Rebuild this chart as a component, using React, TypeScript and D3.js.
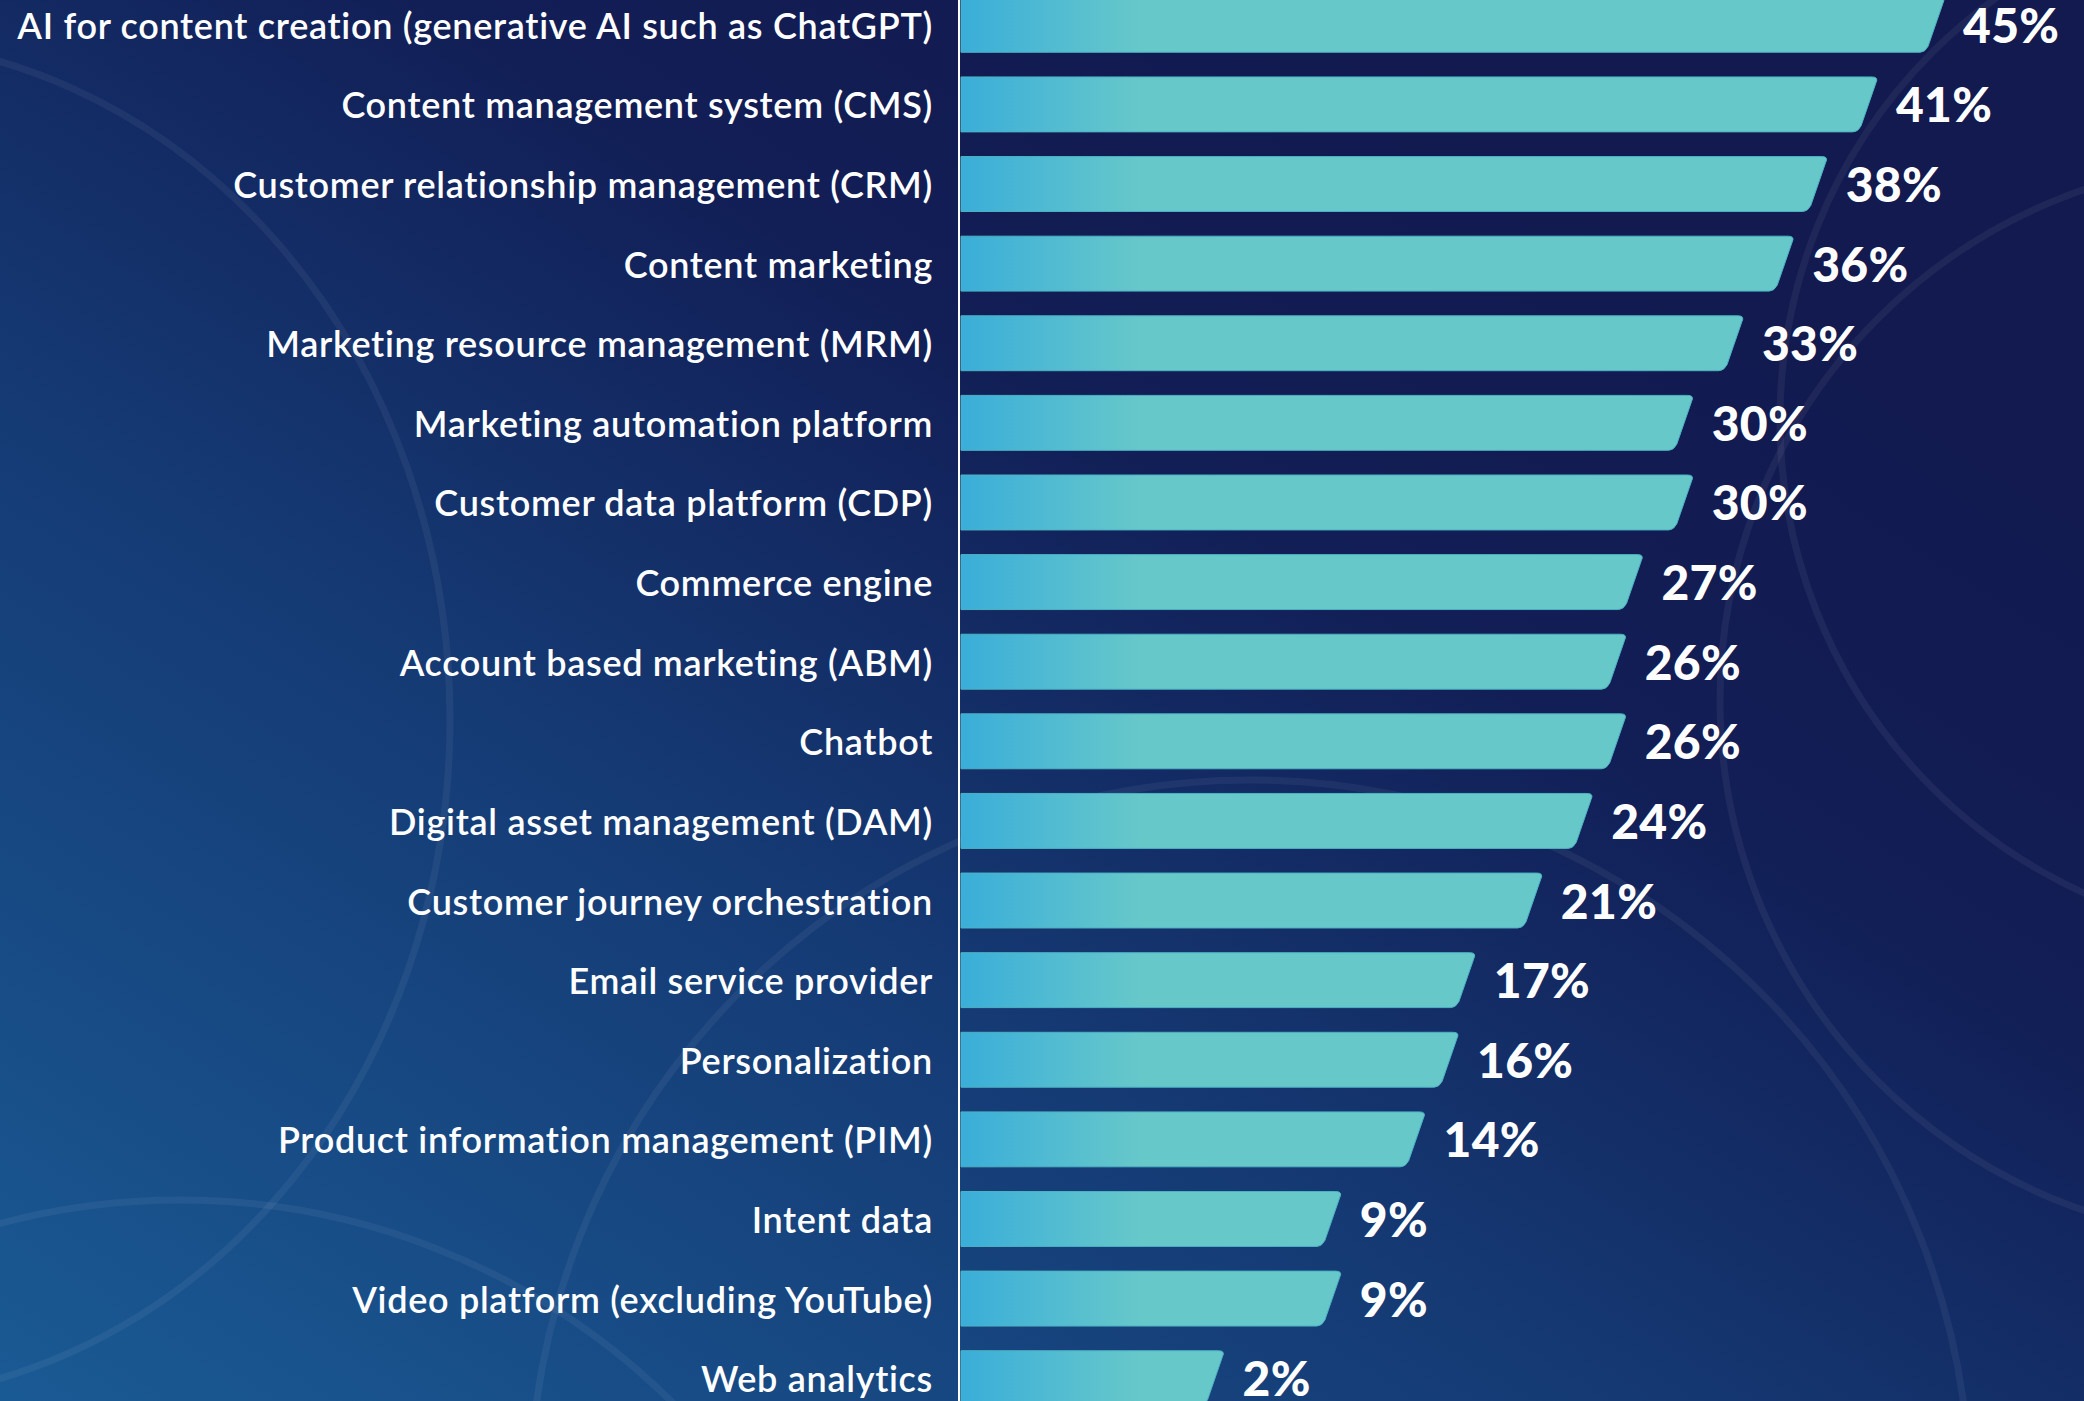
import { useEffect, useRef } from 'react';
import * as d3 from 'd3';

const categories = [
  'AI for content creation (generative AI such as ChatGPT)',
  'Content management system (CMS)',
  'Customer relationship management (CRM)',
  'Content marketing',
  'Marketing resource management (MRM)',
  'Marketing automation platform',
  'Customer data platform (CDP)',
  'Commerce engine',
  'Account based marketing (ABM)',
  'Chatbot',
  'Digital asset management (DAM)',
  'Customer journey orchestration',
  'Email service provider',
  'Personalization',
  'Product information management (PIM)',
  'Intent data',
  'Video platform (excluding YouTube)',
  'Web analytics',
];

const values = [45, 41, 38, 36, 33, 30, 30, 27, 26, 26, 24, 21, 17, 16, 14, 9, 9, 2];

// faint decorative rings in the background
const rings = [
  { cx: -150, cy: 720, rx: 600, ry: 680 },
  { cx: 2260, cy: 700, rx: 540, ry: 540 },
  { cx: 1250, cy: 1500, rx: 720, ry: 720 },
  { cx: 2300, cy: 420, rx: 520, ry: 520 },
  { cx: 180, cy: 1900, rx: 700, ry: 700 },
];

export default function App() {
  const ref = useRef<SVGSVGElement | null>(null);

  useEffect(() => {
    document.body.style.margin = '0';
    if (!ref.current) return;
    const width = 2084;
    const height = 1401;
    const axisX = 959;
    const barLeft = 961;
    const slant = 19;
    const r = 6;

    const svg = d3.select(ref.current);
    svg.selectAll('*').remove();

    const defs = svg.append('defs');
    const bg = defs.append('linearGradient').attr('id', 'bg')
      .attr('x1', 0).attr('y1', 1).attr('x2', 0.8).attr('y2', 0.15);
    bg.append('stop').attr('offset', 0).attr('stop-color', '#1a5a94');
    bg.append('stop').attr('offset', 0.45).attr('stop-color', '#153a74');
    bg.append('stop').attr('offset', 0.75).attr('stop-color', '#121e56');
    bg.append('stop').attr('offset', 1).attr('stop-color', '#121a4f');

    const barGrad = defs.append('linearGradient').attr('id', 'bar')
      .attr('gradientUnits', 'userSpaceOnUse')
      .attr('x1', barLeft).attr('x2', barLeft + 180).attr('y1', 0).attr('y2', 0);
    barGrad.append('stop').attr('offset', 0).attr('stop-color', '#3aaed9');
    barGrad.append('stop').attr('offset', 1).attr('stop-color', '#67c8ca');

    svg.append('rect').attr('width', width).attr('height', height).attr('fill', 'url(#bg)');

    svg.append('g').selectAll('ellipse').data(rings).join('ellipse')
      .attr('cx', d => d.cx).attr('cy', d => d.cy).attr('rx', d => d.rx).attr('ry', d => d.ry)
      .attr('fill', 'none').attr('stroke', 'rgba(255,255,255,0.055)').attr('stroke-width', 7);

    const y = d3.scaleBand<string>()
      .domain(categories)
      .range([-15, 1418])
      .paddingInner(0.31)
      .paddingOuter(0.155);

    // right (top) corner of each bar
    const x = d3.scaleLinear().domain([0, 45]).range([1191, 1945]);

    const h = y.bandwidth();
    const k = (slant * r) / h;
    const barPath = (v: number, top: number) => {
      const xr = x(v);
      const bot = top + h;
      return `M${barLeft},${top}H${xr - r}Q${xr + 1},${top} ${xr - k},${top + r}`
        + `L${xr - slant + k},${bot - r}Q${xr - slant - 1},${bot} ${xr - slant - r},${bot}`
        + `H${barLeft}Z`;
    };

    const rows = categories.map((c, i) => ({ c, v: values[i] }));

    svg.append('g').selectAll('path').data(rows).join('path')
      .attr('d', d => barPath(d.v, y(d.c)!))
      .attr('fill', 'url(#bar)')
      .attr('stroke', '#4cb2c3')
      .attr('stroke-width', 1);

    svg.append('line')
      .attr('x1', axisX).attr('x2', axisX).attr('y1', 0).attr('y2', height)
      .attr('stroke', '#ffffff').attr('stroke-width', 2);

    svg.append('g').selectAll('text').data(rows).join('text')
      .attr('x', 933)
      .attr('y', d => y(d.c)! + h / 2 + 14)
      .attr('text-anchor', 'end')
      .attr('fill', '#ffffff')
      .style('font-family', 'Lato, "Open Sans", sans-serif')
      .style('font-weight', 600)
      .style('font-size', '36px')
      .style('letter-spacing', '0.7px')
      .text(d => d.c);

    svg.append('g').selectAll('text').data(rows).join('text')
      .attr('x', d => x(d.v) + 18)
      .attr('y', d => y(d.c)! + h / 2 + 18)
      .attr('fill', '#ffffff')
      .style('font-family', 'Lato, "Open Sans", sans-serif')
      .style('font-weight', 900)
      .style('font-size', '48px')
      .style('letter-spacing', '0.3px')
      .text(d => `${d.v}%`);
  }, []);

  return (
    <svg ref={ref} width={2084} height={1401}
      style={{ position: 'absolute', left: 0, top: 0, display: 'block' }} />
  );
}
